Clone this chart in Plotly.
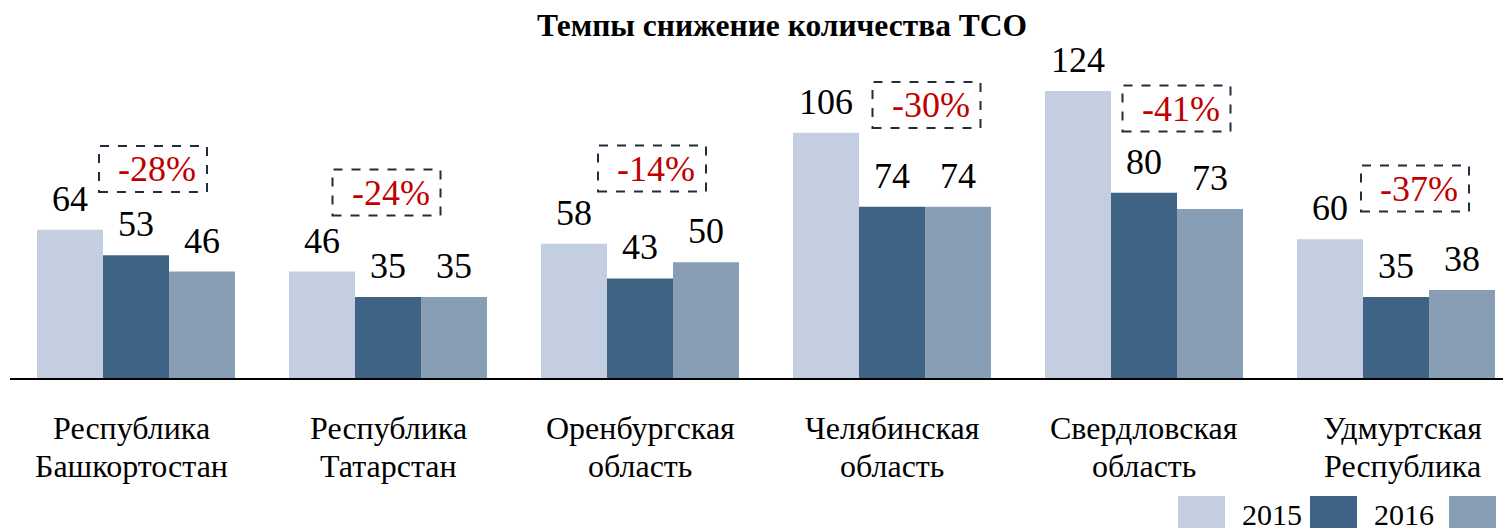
import plotly.graph_objects as go

# ---------------- data ----------------
categories = [["Республика", "Башкортостан"], ["Республика", "Татарстан"],
              ["Оренбургская", "область"], ["Челябинская", "область"],
              ["Свердловская", "область"], ["Удмуртская", "Республика"]]
years = ["2015", "2016", "2017"]
v2015 = [64, 46, 58, 106, 124, 60]
v2016 = [53, 35, 43, 74, 80, 35]
v2017 = [46, 35, 50, 74, 73, 38]
change_pct = [-28, -24, -14, -30, -41, -37]
title_text = "Темпы снижение количества ТСО"

# ---------------- layout constants ----------------
W, H = 1503, 528
ML, MR, MT, MB = 10, 0, 50, 150
CAT_PX = 252
BARGAP = 54 / 252
PX_PER_UNIT = 2.3145
plot_w = W - ML - MR
plot_h = H - MT - MB
FONT = "Times New Roman, Liberation Serif, serif"
colors = ["#C3CEE0", "#3E6385", "#889EB5"]

# percent-box placement (px relative to group centre / px from top)
box_dx_px = [17, -1.5, 12, 34.5, 32.5, 19]
box_cy_px = [169, 192.5, 168.5, 105, 108.5, 188.5]
label_line_cy_px = [428, 466]
label_dx_px = [-5, 0, 0, 0, 0, 6]

series = [v2015, v2016, v2017]
xs = list(range(len(categories)))
bar_w = (1 - BARGAP) / len(series)
baseline_px = H - MB


def px_x(px):
    return (px - ML) / plot_w


def px_y(py):
    return (baseline_px - py) / plot_h


fig = go.Figure()
for name, vals, col in zip(years, series, colors):
    fig.add_trace(go.Bar(x=xs, y=vals, name=name, marker_color=col,
                         marker_line_width=0, showlegend=False))

annotations = []
shapes = []
# value labels
for j, vals in enumerate(series):
    for i, v in enumerate(vals):
        annotations.append(dict(
            x=i + (j - 1) * bar_w, y=v, xref="x", yref="y",
            text=str(v), showarrow=False, yanchor="bottom", xanchor="center",
            yshift=9, font=dict(family=FONT, size=36, color="#000000")))

# percentage boxes
for i, p in enumerate(change_pct):
    cx = i + box_dx_px[i] / CAT_PX
    cy = (baseline_px - box_cy_px[i]) / PX_PER_UNIT
    shapes.append(dict(type="rect", xref="x", yref="y",
                       xsizemode="pixel", ysizemode="pixel",
                       xanchor=cx, yanchor=cy, x0=-54, x1=54, y0=-23, y1=23,
                       line=dict(color="#1F2D3D", width=2, dash="dash"),
                       fillcolor="rgba(0,0,0,0)"))
    annotations.append(dict(x=cx + 4 / CAT_PX, y=cy, xref="x", yref="y",
                            text=f"{p}%", showarrow=False,
                            xanchor="center", yanchor="middle",
                            font=dict(family=FONT, size=36, color="#C00000")))

# category labels (two lines each, tighter spacing than tick labels allow)
for i, lines in enumerate(categories):
    for k, line in enumerate(lines):
        annotations.append(dict(x=i + label_dx_px[i] / CAT_PX,
                                y=px_y(label_line_cy_px[k]),
                                xref="x", yref="paper", text=line,
                                showarrow=False, xanchor="center",
                                yanchor="middle",
                                font=dict(family=FONT, size=32, color="#000000")))

# manual legend (swatches + labels); third label lies beyond the right edge
sw_left = [1178, 1310, 1449]
lab_left = [1240, 1372]
for k, name in enumerate(years):
    shapes.append(dict(type="rect", xref="paper", yref="paper",
                       x0=px_x(sw_left[k]), x1=px_x(sw_left[k] + 47),
                       y0=px_y(496), y1=px_y(545),
                       line=dict(width=0), fillcolor=colors[k]))
    if k < len(lab_left):
        annotations.append(dict(x=px_x(lab_left[k]), y=px_y(533), xref="paper",
                                yref="paper", text=name, showarrow=False,
                                xanchor="left", yanchor="bottom",
                                font=dict(family=FONT, size=30, color="#000000")))

fig.update_layout(
    width=W, height=H,
    margin=dict(l=ML, r=MR, t=MT, b=MB),
    paper_bgcolor="white", plot_bgcolor="white",
    barmode="group", bargap=BARGAP, bargroupgap=0,
    title=dict(text=f"<b>{title_text}</b>", x=(782 - ML) / plot_w,
               xref="paper", xanchor="center", y=1 - 25 / H, yref="container",
               yanchor="middle", font=dict(family=FONT, size=31.5, color="#000000")),
    xaxis=dict(range=[-0.5, -0.5 + plot_w / CAT_PX], showticklabels=False,
               showgrid=False, zeroline=False,
               showline=True, linecolor="#000000", linewidth=2, ticks=""),
    yaxis=dict(range=[0, plot_h / PX_PER_UNIT], visible=False, showgrid=False,
               zeroline=False),
    annotations=annotations, shapes=shapes,
)

fig.write_html("out.html", config={"displayModeBar": False},
               post_script="document.body.style.margin='0';document.body.style.overflow='hidden';")
